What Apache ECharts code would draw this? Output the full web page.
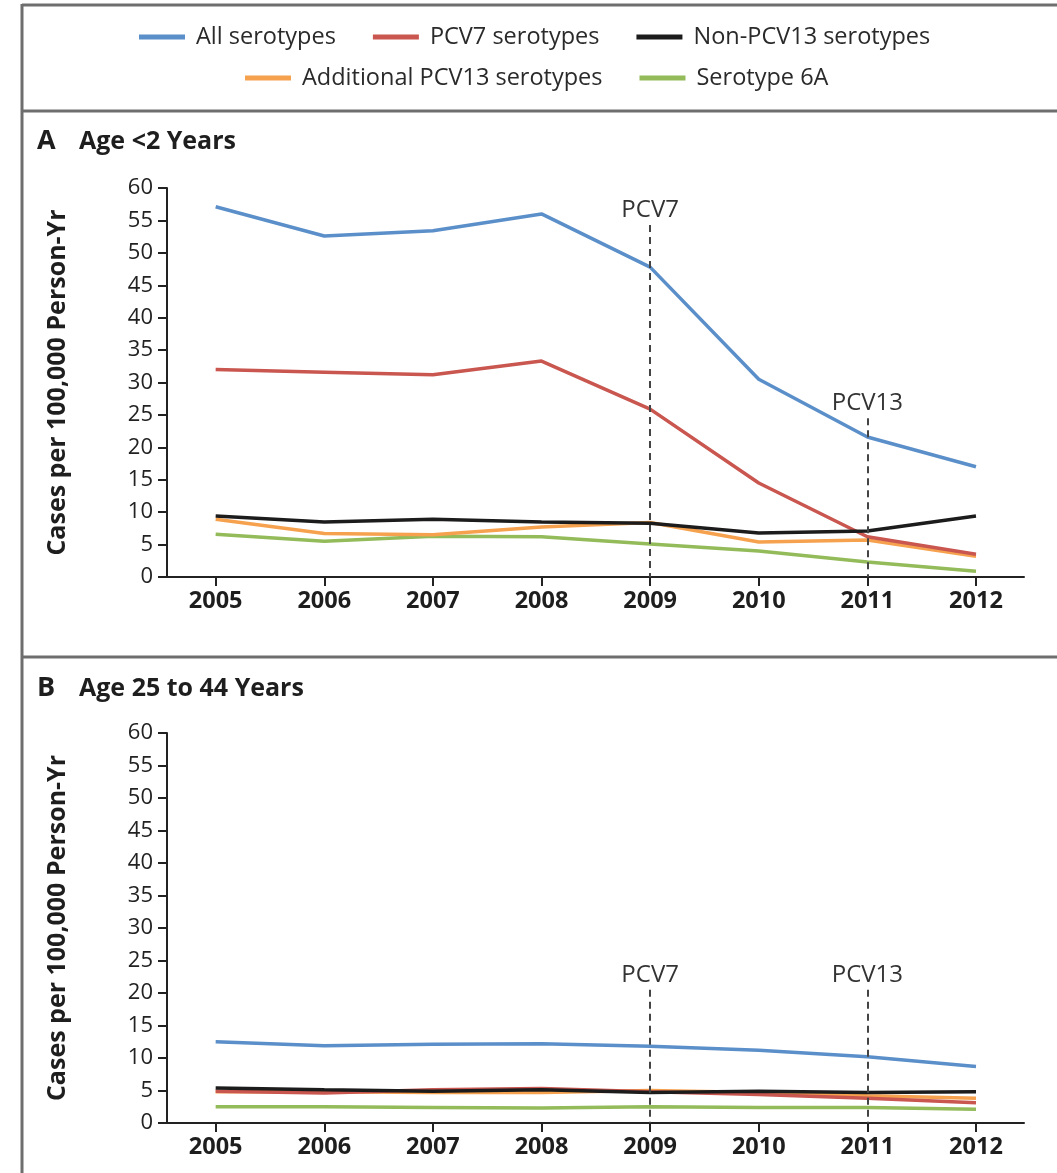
<!DOCTYPE html>
<html>
<head>
<meta charset="utf-8">
<script src="https://cdn.jsdelivr.net/npm/echarts@6/dist/echarts.min.js"></script>
<style>
  html, body { margin: 0; padding: 0; background: #fff; }
  #chart { width: 1057px; height: 1173px; }
</style>
</head>
<body>
<div id="chart"></div>
<script>
// Invasive pneumococcal disease incidence (cases per 100,000 person-years)
const years = [2005, 2006, 2007, 2008, 2009, 2010, 2011, 2012];
const yTicks = [0, 5, 10, 15, 20, 25, 30, 35, 40, 45, 50, 55, 60];

// Panel A: age < 2 years
const allA   = [57.1, 52.6, 53.4, 56.0, 47.8, 30.5, 21.6, 17.0];
const pcv7A  = [32.0, 31.6, 31.2, 33.3, 25.9, 14.5, 6.2, 3.5];
const nonA   = [9.4, 8.5, 8.9, 8.5, 8.3, 6.8, 7.1, 9.4];
const addA   = [8.9, 6.7, 6.5, 7.7, 8.4, 5.4, 5.7, 3.2];
const s6aA   = [6.6, 5.5, 6.3, 6.2, 5.1, 4.0, 2.3, 0.9];

// Panel B: age 25 to 44 years
const allB   = [12.5, 11.9, 12.1, 12.2, 11.8, 11.2, 10.2, 8.7];
const pcv7B  = [4.9, 4.6, 5.1, 5.3, 4.8, 4.4, 3.8, 3.1];
const nonB   = [5.4, 5.1, 4.9, 5.1, 4.7, 4.9, 4.7, 4.8];
const addB   = [4.8, 4.8, 4.7, 4.7, 5.0, 4.7, 4.2, 3.8];
const s6aB   = [2.5, 2.5, 2.4, 2.3, 2.5, 2.4, 2.4, 2.1];

// Vaccine introduction markers: year, label, top of dashed line per panel
const vaccines = [
  { year: 2009, label: 'PCV7',  topA: 54.3, topB: 20.5 },
  { year: 2011, label: 'PCV13', topA: 24.5, topB: 20.5 }
];

const names = ['All serotypes', 'PCV7 serotypes', 'Non-PCV13 serotypes', 'Additional PCV13 serotypes', 'Serotype 6A'];
const colors = {
  'All serotypes': '#5b8fc9',
  'PCV7 serotypes': '#c9564f',
  'Non-PCV13 serotypes': '#1c1c1c',
  'Additional PCV13 serotypes': '#f6a14e',
  'Serotype 6A': '#93bb5a'
};

const FONT = 'Open Sans';
const BORDER = '#6e6e6e';

function pairs(vals) { return years.map((y, i) => [y, vals[i]]); }

function xAxisFor(gridIndex) {
  return {
    type: 'value', gridIndex, min: 2004.552, max: 2012.442,
    axisLine: { show: true, lineStyle: { color: '#222', width: 2 } },
    axisTick: { show: true, customValues: years, length: 9, lineStyle: { color: '#222', width: 2 } },
    axisLabel: { customValues: years, margin: 12, fontFamily: FONT, fontSize: 23.5, fontWeight: 'bold', color: '#1e1e1e', formatter: v => String(v) },
    splitLine: { show: false }
  };
}

function yAxisFor(gridIndex) {
  return {
    type: 'value', gridIndex, min: 0, max: 60, interval: 5,
    name: 'Cases per 100,000 Person-Yr', nameLocation: 'middle', nameRotate: 90, nameGap: 97,
    nameTextStyle: { fontFamily: FONT, fontSize: 25, fontWeight: 'bold', color: '#1e1e1e' },
    axisLine: { show: true, lineStyle: { color: '#222', width: 2 } },
    axisTick: { show: true, length: 9, lineStyle: { color: '#222', width: 2 } },
    axisLabel: { margin: 14, fontFamily: FONT, fontSize: 22, color: '#222',
      formatter: v => (yTicks.indexOf(v) >= 0 ? String(v) : '') },
    splitLine: { show: false }
  };
}

function panelSeries(idx, data, topKey) {
  // draw order: green, orange, red, black, blue
  const order = ['Serotype 6A', 'Additional PCV13 serotypes', 'PCV7 serotypes', 'Non-PCV13 serotypes', 'All serotypes'];
  return order.map(n => {
    const s = {
      name: n, type: 'line', xAxisIndex: idx, yAxisIndex: idx,
      data: pairs(data[n]), showSymbol: false, symbol: 'none',
      lineStyle: { color: colors[n], width: 3.5 }, itemStyle: { color: colors[n] },
      animation: false
    };
    if (n === 'All serotypes') {
      s.markLine = {
        silent: true, symbol: 'none', animation: false,
        lineStyle: { color: '#444', width: 2, type: [7, 5] },
        label: { show: true, position: 'start', distance: 3, fontFamily: FONT, fontSize: 24, color: '#333', formatter: p => p.name },
        data: vaccines.map(v => [
          { name: v.label, coord: [v.year, v[topKey]] },
          { coord: [v.year, 0] }
        ])
      };
    }
    return s;
  });
}

const dataA = {
  'All serotypes': allA, 'PCV7 serotypes': pcv7A, 'Non-PCV13 serotypes': nonA,
  'Additional PCV13 serotypes': addA, 'Serotype 6A': s6aA
};
const dataB = {
  'All serotypes': allB, 'PCV7 serotypes': pcv7B, 'Non-PCV13 serotypes': nonB,
  'Additional PCV13 serotypes': addB, 'Serotype 6A': s6aB
};

const legendCommon = {
  orient: 'horizontal', icon: 'rect', itemWidth: 46, itemHeight: 5, itemGap: 37,
  textStyle: { fontFamily: FONT, fontSize: 23.5, color: '#2a2a2a', padding: [0, 0, 0, 6] },
  selectedMode: false
};

const option = {
  backgroundColor: '#fff',
  animation: false,
  legend: [
    Object.assign({}, legendCommon, { left: 134, top: 20, data: names.slice(0, 3) }),
    Object.assign({}, legendCommon, { left: 240, top: 61, data: names.slice(3) })
  ],
  grid: [
    { left: 167, right: 33, top: 188, height: 389, containLabel: false },
    { left: 167, right: 33, top: 733, height: 390, containLabel: false }
  ],
  xAxis: [xAxisFor(0), xAxisFor(1)],
  yAxis: [yAxisFor(0), yAxisFor(1)],
  series: panelSeries(0, dataA, 'topA').concat(panelSeries(1, dataB, 'topB')),
  graphic: [
    // frame and panel separators
    { type: 'line', shape: { x1: 22, y1: 5, x2: 1057, y2: 5 }, style: { stroke: BORDER, lineWidth: 3 } },
    { type: 'line', shape: { x1: 22, y1: 4, x2: 22, y2: 1173 }, style: { stroke: BORDER, lineWidth: 3 } },
    { type: 'line', shape: { x1: 22, y1: 111, x2: 1057, y2: 111 }, style: { stroke: BORDER, lineWidth: 3 } },
    { type: 'line', shape: { x1: 22, y1: 657, x2: 1057, y2: 657 }, style: { stroke: BORDER, lineWidth: 3 } },
    // panel titles
    { type: 'text', left: 37, top: 128, style: { text: 'A', font: 'bold 27px "Open Sans"', fill: '#1e1e1e' } },
    { type: 'text', left: 79, top: 129, style: { text: 'Age <2 Years', font: 'bold 25px "Open Sans"', fill: '#1e1e1e' } },
    { type: 'text', left: 37, top: 675, style: { text: 'B', font: 'bold 27px "Open Sans"', fill: '#1e1e1e' } },
    { type: 'text', left: 79, top: 676, style: { text: 'Age 25 to 44 Years', font: 'bold 25px "Open Sans"', fill: '#1e1e1e' } }
  ]
};

const chart = echarts.init(document.getElementById('chart'), null, { renderer: 'canvas' });
chart.setOption(option);
</script>
</body>
</html>
